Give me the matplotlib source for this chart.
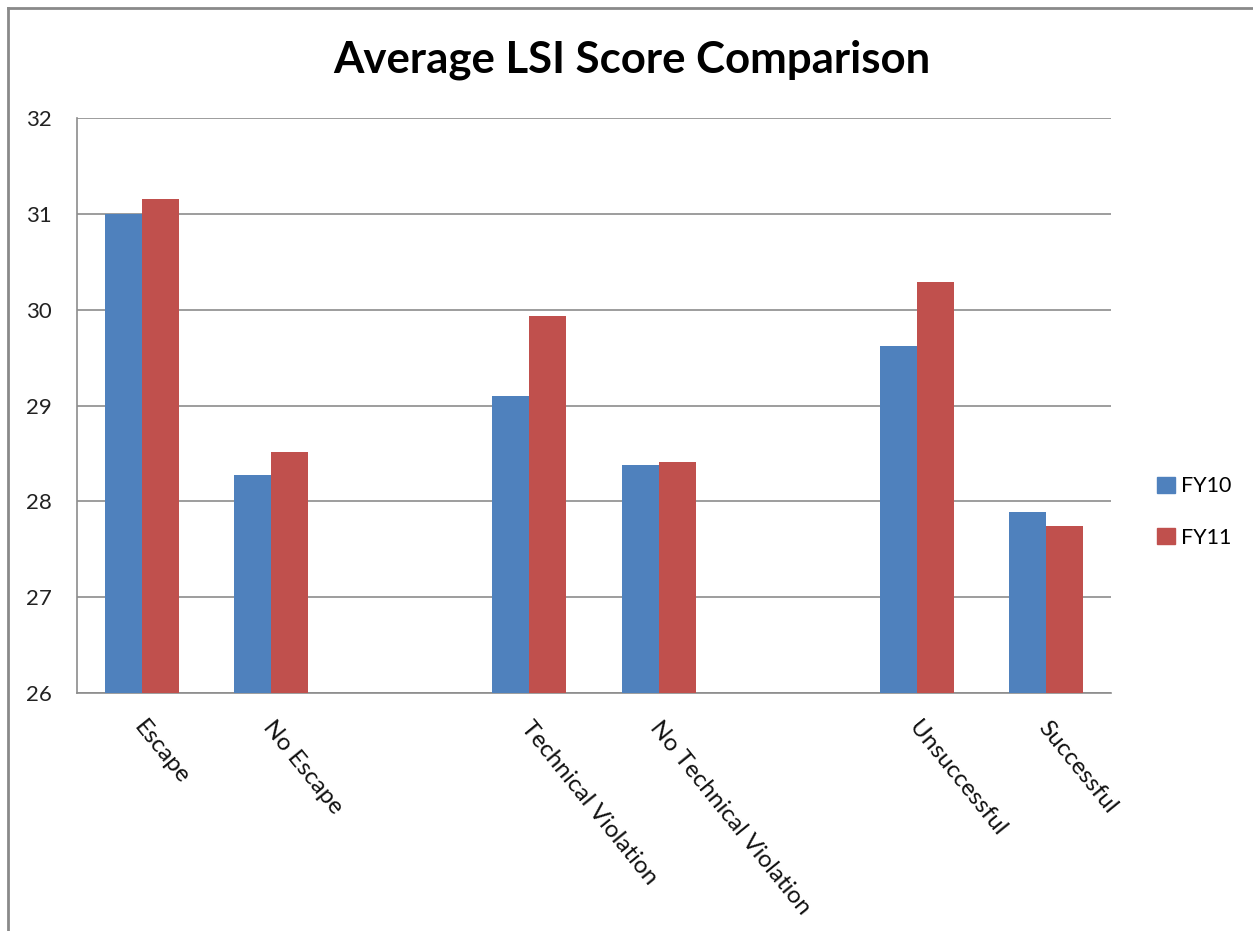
import numpy as np
import matplotlib
matplotlib.use("Agg")
import matplotlib.pyplot as plt
from matplotlib.lines import Line2D

categories = ["Escape", "No Escape", "", "Technical Violation",
              "No Technical Violation", "", "Unsuccessful", "Successful"]
fy10 = [31.00, 28.27, np.nan, 29.10, 28.38, np.nan, 29.62, 27.89]
fy11 = [31.16, 28.51, np.nan, 29.93, 28.41, np.nan, 30.29, 27.74]
series_names = ["FY10", "FY11"]
yticks = [26, 27, 28, 29, 30, 31, 32]
title = "Average LSI Score Comparison"

BLUE = "#4F81BD"
RED = "#C0504D"
GRID = "#8C8C8C"
FONT = "Lato"

W, H = 1253, 931
fig = plt.figure(figsize=(W / 100, H / 100), dpi=100)
ax = fig.add_axes([77 / W, 1 - 693 / H, (1111 - 77) / W, (693 - 118) / H])

x = np.arange(len(categories))
bw = 1 / 3.5
ax.bar(x - bw / 2, fy10, width=bw, color=BLUE, label=series_names[0], zorder=3)
ax.bar(x + bw / 2, fy11, width=bw, color=RED, label=series_names[1], zorder=3)

ax.set_xlim(-0.5, len(categories) - 0.5)
ax.set_ylim(26, 32)
ax.set_yticks(yticks)
ax.set_yticklabels([str(t) for t in yticks], fontsize=16, fontfamily=FONT, color="#222222")
ax.tick_params(axis="y", length=0, pad=18)
ax.yaxis.grid(True, color=GRID, linewidth=1.2, zorder=0)
ax.set_axisbelow(True)

ax.set_xticks(x)
ax.set_xticklabels([])
ax.tick_params(axis="x", length=0)
for xi, lab in zip(x, categories):
    if lab:
        ax.annotate(lab, xy=(xi, 26), xycoords="data", xytext=(-3, -22),
                    textcoords="offset points", rotation=-51,
                    rotation_mode="anchor", ha="left", va="center",
                    fontsize=17.5, fontfamily=FONT, color="#111111")

for s in ["top", "right"]:
    ax.spines[s].set_visible(False)
for s in ["left", "bottom"]:
    ax.spines[s].set_color(GRID)
    ax.spines[s].set_linewidth(1.2)

fig.text(632 / W, 1 - 60 / H, title, ha="center", va="center",
         fontsize=31.5, fontweight="bold", fontfamily=FONT, color="#000000")

handles = [plt.Rectangle((0, 0), 1, 1, color=BLUE), plt.Rectangle((0, 0), 1, 1, color=RED)]
fig.legend(handles, series_names, loc="center left", bbox_to_anchor=(1138 / W, 1 - 512 / H),
           frameon=False, prop={"family": FONT, "size": 15.5},
           handlelength=0.8, handleheight=0.8, handletextpad=0.3, labelspacing=1.45)

# outer chart frame (partially cropped)
fig.add_artist(Line2D([8 / W, 8 / W], [0, 1 - 8 / H], transform=fig.transFigure,
                      color="#8A8A8A", linewidth=2))
fig.add_artist(Line2D([8 / W, 1], [1 - 8 / H, 1 - 8 / H], transform=fig.transFigure,
                      color="#8A8A8A", linewidth=2))

fig.savefig("out.png", dpi=100)
